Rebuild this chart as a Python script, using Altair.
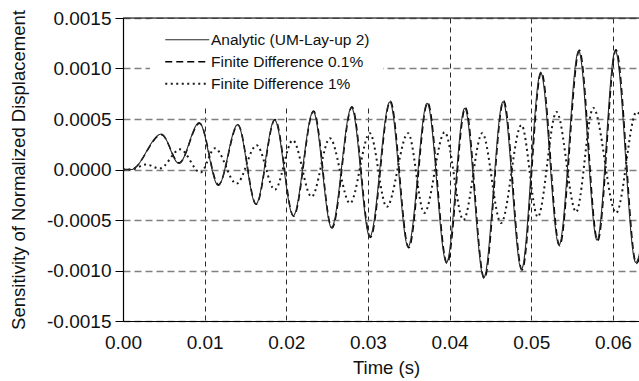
import altair as alt
import pandas as pd

series_names = ["Analytic (UM-Lay-up 2)", "Finite Difference 0.1%", "Finite Difference 1%"]

analytic_t = [0.0, 0.0010, 0.0047, 0.00685, 0.00934, 0.01167, 0.01404, 0.01628, 0.01857, 0.02085,
              0.0233, 0.02554, 0.02799, 0.03023, 0.03268, 0.03492, 0.03725, 0.03962, 0.04186, 0.04419,
              0.04655, 0.0488, 0.05116, 0.0534, 0.05581, 0.05806, 0.0603, 0.0628, 0.0650]
analytic_v = [0.0, 0.0, 0.000351, 0.00006, 0.000464, -0.000158, 0.000444, -0.000342, 0.00049, -0.000457,
              0.000572, -0.000573, 0.000612, -0.000665, 0.000668, -0.000764, 0.000655, -0.000922, 0.000606, -0.00107,
              0.000671, -0.000988, 0.000959, -0.000748, 0.001173, -0.000698, 0.001176, -0.00092, 0.0006]

fd01_t = [0.0, 0.0010, 0.00472, 0.00688, 0.00938, 0.01170, 0.01408, 0.01632, 0.01862, 0.02090,
          0.02335, 0.02560, 0.02805, 0.03030, 0.03275, 0.03500, 0.03732, 0.03970, 0.04194, 0.04426,
          0.04662, 0.04888, 0.05124, 0.05348, 0.05590, 0.05814, 0.06038, 0.06288, 0.0651]
fd01_v = [0.0, 0.0, 0.000345, 0.000065, 0.000458, -0.000150, 0.000440, -0.000345, 0.000495, -0.000462,
          0.000578, -0.000580, 0.000620, -0.000672, 0.000675, -0.000775, 0.000662, -0.000930, 0.000612, -0.001080,
          0.000680, -0.000995, 0.000965, -0.000755, 0.001180, -0.000705, 0.001185, -0.000930, 0.0006]

fd1_t = [0.0, 0.0010, 0.0028, 0.0045, 0.0070, 0.0095, 0.01126, 0.0139, 0.01637, 0.0186,
         0.0208, 0.0231, 0.02534, 0.0278, 0.03023, 0.0323, 0.03492, 0.0369, 0.0394, 0.0417,
         0.0440, 0.0463, 0.0488, 0.0508, 0.0531, 0.0555, 0.0576, 0.0604, 0.0629, 0.0650]
fd1_v = [0.0, 0.0, 0.00005, 0.00001, 0.0002, -0.00003, 0.00021, -0.00014, 0.00024, -0.0002,
         0.00029, -0.00027, 0.00031, -0.000335, 0.00036, -0.00037, 0.00036, -0.00043, 0.00037, -0.0005,
         0.00036, -0.00053, 0.00044, -0.00047, 0.00057, -0.00042, 0.00061, -0.00043, 0.00057, -0.0001]

x_ticks = [0.0, 0.01, 0.02, 0.03, 0.04, 0.05, 0.06]
y_ticks = [-0.0015, -0.0010, -0.0005, 0.0, 0.0005, 0.0010, 0.0015]

rows = []
for name, ts, vs in [(series_names[2], fd1_t, fd1_v),
                     (series_names[1], fd01_t, fd01_v),
                     (series_names[0], analytic_t, analytic_v)]:
    for t, v in zip(ts, vs):
        rows.append({"Time": t, "Value": v, "Series": name})
df = pd.DataFrame(rows)

FONT = "Liberation Sans"

legend = alt.Legend(
    title=None, orient="none", legendX=27, legendY=1,
    symbolType="M-1,0H7", symbolSize=121, labelFontSize=15.5, labelFont=FONT,
    labelColor="#111", labelOffset=32.5, fillColor="white", padding=13, rowPadding=5,
)

lines = alt.Chart(df).mark_line(interpolate="monotone", clip=True).encode(
    x=alt.X("Time:Q",
            scale=alt.Scale(domain=[0, 0.0632], nice=False, zero=False),
            axis=alt.Axis(values=x_ticks, format=".2f", title="Time (s)", titleX=263,
                          labelFontSize=19, titleFontSize=18.5, labelFont=FONT, titleFont=FONT,
                          titleFontWeight="normal", labelColor="#111", titleColor="#111",
                          ticks=False, labelPadding=12, titlePadding=6,
                          domainColor="black", domainWidth=1.2,
                          grid=True, gridColor="#111", gridDash=[5, 4], gridWidth=0.9,
                          labelFlush=False)),
    y=alt.Y("Value:Q",
            scale=alt.Scale(domain=[-0.0015, 0.0015], nice=False),
            axis=alt.Axis(values=y_ticks,
                          labelExpr="replace(format(datum.value, '.4f'), '\u2212', '-')",
                          title="Sensitivity of Normalized Displacement",
                          labelFontSize=19, titleFontSize=18.5, labelFont=FONT, titleFont=FONT,
                          titleFontWeight="normal", labelColor="#111", titleColor="#111",
                          ticks=True, tickSize=8, tickColor="black", labelPadding=4, titlePadding=18,
                          domainColor="black", domainWidth=1.2,
                          grid=True, gridColor="#808080", gridDash=[7, 4], gridWidth=1.3,
                          labelFlush=False)),
    color=alt.Color("Series:N", sort=series_names,
                    scale=alt.Scale(domain=series_names, range=["#2a2a2a", "#000000", "#1a1a1a"]),
                    legend=legend),
    strokeDash=alt.StrokeDash("Series:N", sort=series_names,
                              scale=alt.Scale(domain=series_names, range=[[1, 0], [7, 4], [2, 3.5]]),
                              legend=legend),
    strokeWidth=alt.StrokeWidth("Series:N", sort=series_names,
                                scale=alt.Scale(domain=series_names, range=[1.1, 2.0, 1.8]),
                                legend=legend),
)

top_rule = alt.Chart(pd.DataFrame({"top": [y_ticks[-1]]})).mark_rule(
    color="black", strokeWidth=1.2
).encode(y="top:Q")

chart = alt.layer(lines, top_rule).properties(
    width=516, height=303,
    autosize=alt.AutoSizeParams(type="none"),
    padding={"left": 123, "top": 18, "right": 0, "bottom": 60},
).configure_view(stroke=None).configure(background="white")

chart.save("out.html", embed_options={"renderer": "svg", "actions": False})
